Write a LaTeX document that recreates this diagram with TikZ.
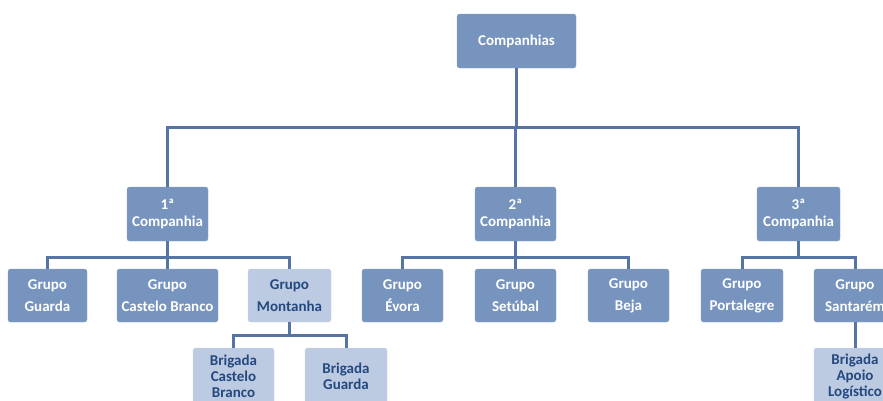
\documentclass[tikz,border=0pt]{standalone}
\usepackage{fontspec}
\setmainfont{Carlito}
\definecolor{boxdark}{RGB}{118,148,190}
\definecolor{boxlight}{RGB}{188,203,225}
\definecolor{linecol}{RGB}{86,116,164}
\definecolor{txtdark}{RGB}{36,72,128}
\begin{document}
\begin{tikzpicture}[x=1pt,y=-1pt,
  box/.style={rounded corners=2.5pt, inner sep=0pt, align=center, font=\bfseries\fontsize{15}{17}\selectfont},
  dbox/.style={box, fill=boxdark, draw=boxdark!85!white, text=white},
  lbox/.style={box, fill=boxlight, draw=boxlight!85!white, text=txtdark},
  grp/.style={minimum height=53pt, font=\bfseries\fontsize{15}{22}\selectfont},
  brig/.style={lbox, minimum height=56pt, font=\bfseries\fontsize{15}{16}\selectfont},
  conn/.style={draw=linecol, line width=3pt}]
\useasboundingbox (0,0) rectangle (883,400);
\clip (0,0) rectangle (883,400);
% nodes
\node[dbox, minimum width=119pt, minimum height=54pt] (top) at (516.5,41) {Companhias};
\node[dbox, minimum width=81pt, minimum height=54pt] (c1) at (167.5,214) {1ª\\Companhia};
\node[dbox, minimum width=81pt, minimum height=54pt] (c2) at (515.5,214) {2ª\\Companhia};
\node[dbox, minimum width=83pt, minimum height=54pt] (c3) at (798.5,214) {3ª\\Companhia};
\node[dbox, grp, minimum width=79pt] (gguarda) at (47.5,295.5) {Grupo\\Guarda};
\node[dbox, grp, minimum width=101pt] (gcb) at (167.5,295.5) {Grupo\\Castelo Branco};
\node[lbox, grp, minimum width=83pt] (gmont) at (289.5,295.5) {Grupo\\Montanha};
\node[dbox, grp, minimum width=81pt] (gevora) at (402.5,295.5) {Grupo\\Évora};
\node[dbox, grp, minimum width=81pt] (gset) at (515.5,295.5) {Grupo\\Setúbal};
\node[dbox, grp, minimum width=81pt] (gbeja) at (628.5,295.5) {Grupo\\Beja};
\node[dbox, grp, minimum width=82pt] (gport) at (742,295.5) {Grupo\\Portalegre};
\node[dbox, grp, minimum width=82pt] (gsant) at (855,295.5) {Grupo\\Santarém};
\node[brig, minimum width=81pt] (bcb) at (233.5,376) {Brigada\\Castelo\\Branco};
\node[brig, minimum width=82pt] (bguarda) at (346,376) {Brigada\\Guarda};
\node[brig, minimum width=82pt] (bapoio) at (855,376) {Brigada\\Apoio\\Logístico};
% connectors
\foreach \c in {c1,c2,c3} \draw[conn] (top.south) -- ++(0,59) -| (\c.north);
\foreach \g in {gguarda,gcb,gmont} \draw[conn] (c1.south) -- ++(0,16) -| (\g.north);
\foreach \g in {gevora,gset,gbeja} \draw[conn] (c2.south) -- ++(0,16) -| (\g.north);
\foreach \g in {gport,gsant} \draw[conn] (c3.south) -- ++(0,16) -| (\g.north);
\foreach \b in {bcb,bguarda} \draw[conn] (gmont.south) -- ++(0,13) -| (\b.north);
\draw[conn] (gsant.south) -- (bapoio.north);
\end{tikzpicture}
\end{document}
